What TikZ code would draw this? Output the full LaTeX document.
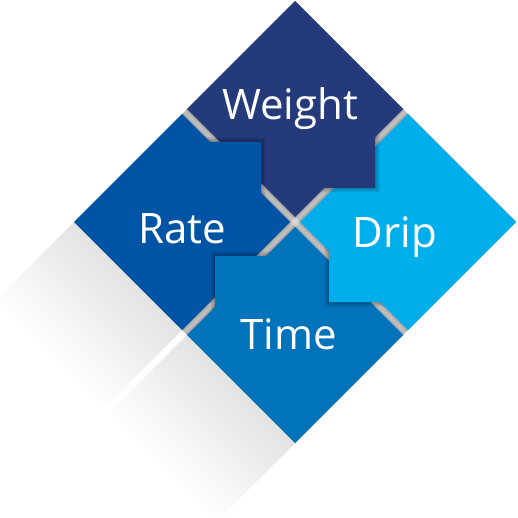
\documentclass[tikz,border=0pt]{standalone}
\usepackage{fontspec}
\setmainfont{Open Sans}
\definecolor{cWeight}{HTML}{253A7B}
\definecolor{cRate}{HTML}{0054A5}
\definecolor{cTime}{HTML}{0073BB}
\definecolor{cDrip}{HTML}{00AEEC}
\definecolor{cGap}{HTML}{CFCFCF}
\definecolor{cMid}{HTML}{E9E9E9}
\begin{document}
\begin{tikzpicture}[x=1pt,y=-1pt,
  lbl/.style={text=white,font=\fontsize{42}{50}\selectfont,anchor=base,inner sep=0pt},
  glow/.style={draw=black,draw opacity=0.07,line join=miter}]
\useasboundingbox (0,0) rectangle (518,518);
\fill[white] (0,0) rectangle (518,518);
\begin{scope}[shift={(295,222)}]
  % soft shadow bands to the lower left
  \foreach \i in {0,...,39}{
    \pgfmathsetmacro{\ta}{\i*2}
    \pgfmathsetmacro{\tb}{\i*2+2.6}
    \pgfmathsetmacro{\k}{11*(1-(\i+0.5)/40)}
    \fill[black!\k] (-221-\ta,\ta) -- (-113-\ta,108+\ta) -- (-113-\tb,108+\tb) -- (-221-\tb,\tb) -- cycle;
    \fill[black!\k] (-108-\ta,113+\ta) -- (0-\ta,221+\ta) -- (0-\tb,221+\tb) -- (-108-\tb,113+\tb) -- cycle;
  }
  % gap background
  \fill[cGap] (0,-221) -- (221,0) -- (0,221) -- (-221,0) -- cycle;
  \fill[cMid] (0,-5) -- (5,0) -- (0,5) -- (-5,0) -- cycle;
  % glow of the quadrants on the gaps
  \begin{scope}
    \clip (0,-221) -- (221,0) -- (0,221) -- (-221,0) -- cycle;
    \foreach \w in {7,4.5,2}{
      \draw[glow,line width=\w] (0,-221) -- (-108,-113) -- (0,-5) -- (108,-113) -- cycle;
      \draw[glow,line width=\w] (-221,0) -- (-113,108) -- (-5,0) -- (-113,-108) -- cycle;
      \draw[glow,line width=\w] (0,221) -- (108,113) -- (0,5) -- (-108,113) -- cycle;
      \draw[glow,line width=\w] (221,0) -- (113,-108) -- (5,0) -- (113,108) -- cycle;
    }
  \end{scope}
  % quadrant bodies
  \fill[cWeight] (0,-221) -- (-108,-113) -- (0,-5) -- (108,-113) -- cycle;
  \fill[cRate] (-221,0) -- (-113,108) -- (-5,0) -- (-113,-108) -- cycle;
  \fill[cTime] (0,221) -- (108,113) -- (0,5) -- (-108,113) -- cycle;
  \fill[cDrip] (221,0) -- (113,-108) -- (5,0) -- (113,108) -- cycle;
  % tab shadows
  \begin{scope}
    \clip (-10,5) -- (115,-120) -- (300,-120) -- (300,300) -- (-10,300) -- cycle;
    \foreach \w in {9,5.5,2.5}
      \draw[glow,draw opacity=0.09,line width=\w] (29,-34) -- (80,-34) -- (80,-85) -- cycle;
  \end{scope}
  \begin{scope}
    \clip (5,10) -- (-120,-115) -- (-120,-300) -- (300,-300) -- (300,10) -- cycle;
    \foreach \w in {9,5.5,2.5}
      \draw[glow,draw opacity=0.09,line width=\w] (-34,-29) -- (-34,-80) -- (-85,-80) -- cycle;
  \end{scope}
  \begin{scope}
    \clip (10,-5) -- (-115,120) -- (-300,120) -- (-300,-300) -- (10,-300) -- cycle;
    \foreach \w in {9,5.5,2.5}
      \draw[glow,draw opacity=0.09,line width=\w] (-29,34) -- (-80,34) -- (-80,85) -- cycle;
  \end{scope}
  \begin{scope}
    \clip (-5,-10) -- (120,115) -- (120,300) -- (-300,300) -- (-300,-10) -- cycle;
    \foreach \w in {9,5.5,2.5}
      \draw[glow,draw opacity=0.09,line width=\w] (34,29) -- (34,80) -- (85,80) -- cycle;
  \end{scope}
  % tabs
  \fill[cWeight] (24,-34) -- (80,-34) -- (80,-90) -- cycle;
  \fill[cRate] (-34,-24) -- (-34,-80) -- (-90,-80) -- cycle;
  \fill[cTime] (-24,34) -- (-80,34) -- (-80,90) -- cycle;
  \fill[cDrip] (34,24) -- (34,80) -- (90,80) -- cycle;
\end{scope}
\node[lbl] (weight) at (290,120) {Weight};
\node[lbl] (rate) at (182.5,243) {Rate};
\node[lbl] (drip) at (395,247) {Drip};
\node[lbl] (time) at (289,349) {Time};
\end{tikzpicture}
\end{document}
